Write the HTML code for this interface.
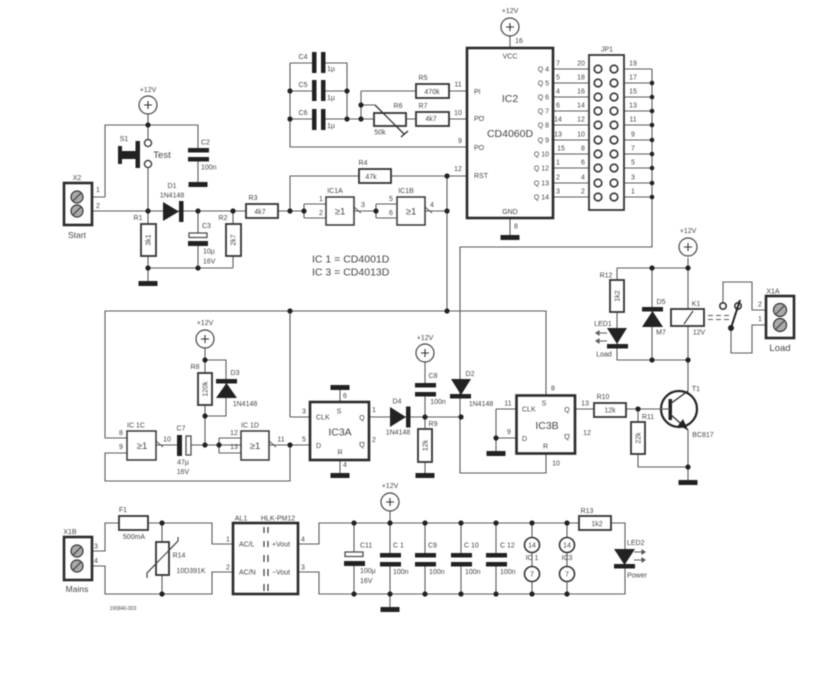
<!DOCTYPE html>
<html><head><meta charset="utf-8"><title>Circuit schematic</title>
<style>
html,body{margin:0;padding:0;background:#fff}
svg{display:block;width:818px;height:680px;filter:blur(.5px)}
text{font-family:"Liberation Sans",sans-serif;font-size:7px;fill:#444;text-anchor:middle}
.s{text-anchor:start}.e{text-anchor:end}
.b{font-size:9.5px}.m{font-size:10.5px}.c{font-size:10.5px;text-anchor:start}
.w{fill:none;stroke:#5a5a5a;stroke-width:1.1}
.r{fill:#fff;stroke:#333;stroke-width:1.8}
.ic{fill:#fff;stroke:#2a2a2a;stroke-width:2.6}
.g{fill:#fff;stroke:#333;stroke-width:1.5}
.o{fill:#fff;stroke:#444;stroke-width:1.2}
.t{fill:#fff;stroke:#333;stroke-width:1.6}
.k{fill:#222;stroke:none}
.j{fill:#222;stroke:none}
</style></head><body>
<svg xmlns="http://www.w3.org/2000/svg" width="818" height="680" viewBox="0 0 818 680">
<rect width="818" height="680" fill="#fff"/>

<!-- WIRES -->
<g class="w">
<path d="M148 114V140M148 167V211M105 197V125H198V184M78 197H105M78 211H290M148 211V283M198 211V268M233 211V268M148 268H233"/>
<path d="M290 211V176H467M290 211H304M304 204V218M304 204H326M304 218H326M354 211H376M376 204V218M376 204H396M376 218H396M425 211H447M447 176V311"/>
<path d="M510 36V48M510 218V237M290 63V147H467M290 63H347V119M290 91H347M290 119H374M361 91V119M361 91H416M449 91H467M406 119H416M449 119H467"/>
<path d="M361 105H375L404 134M401 137L408 131"/>
<path d="M553 69H598M553 83H598M553 97H598M553 111H598M553 125H598M553 140H598M553 154H598M553 168H598M553 183H598M553 197H598"/>
<path d="M615 69H652M615 83H652M615 97H652M615 111H652M615 125H652M615 140H652M615 154H652M615 168H652M615 183H652M615 197H652M652 69V247H460V473H546V453"/>
<path d="M105 438V311H546V395M105 438H127M127 453H105V481H290V445M156 445H179M189 445H241M219 438V453M219 438H241M219 453H241M269 445H310M290 417V311M290 417H310"/>
<path d="M205 348V445M205 360H226V416H205"/>
<path d="M340 387V402M340 460V475M369 417H461M425 362V475"/>
<path d="M496 438V453M496 409V438M496 409H516M496 438H516M575 409H660M638 409V467H688M688 258V391M688 430V482M617 268H688M617 268V360H688M652 268V360"/>
<path d="M670 404L688 391M670 414L688 430"/>
<path d="M723 302V282H752V310H770M731 328V353H752V325H770M731 328L740 300"/>
<path d="M77 551H105V523H212V544H233M77 566H105V594H212V572H233M162 523V594M298 544H319V523H625V594H319V572H298"/>
<path d="M147 578V573L178 541V537"/>
<path d="M390 511V609M354 523V594M425 523V594M461 523V594M496 523V594M532 523V594M567 523V594"/>
<path d="M354 207L361 213M425 207L432 213M156 441L163 447M269 441L276 447"/>
<path d="M708 315.500H713M716 315.500H721M724 315.500H729M708 319.500H713M716 319.500H721M724 319.500H729"/>
<path d="M607 333H596M607 341H596M596 333l3-2v4zM596 341l3-2v4zM634 552H645M634 560H645" />
<path d="M645 552l-3-2v4zM645 560l-3-2v4z" fill="#444"/>
</g>

<!-- gaps between capacitor plates -->
<g fill="#fff">
<rect x="190" y="152" width="17" height="5"/><rect x="190" y="237" width="16" height="4"/>
<rect x="316" y="54" width="5" height="17"/><rect x="316" y="82" width="5" height="17"/><rect x="316" y="111" width="5" height="17"/>
<rect x="417" y="387" width="17" height="5"/><rect x="346" y="556" width="17" height="5"/>
<rect x="382" y="557" width="17" height="5"/><rect x="417" y="557" width="17" height="5"/><rect x="453" y="557" width="17" height="5"/><rect x="488" y="557" width="17" height="5"/>
</g>

<!-- supply circles -->
<g class="o" stroke="#333">
<circle cx="148" cy="105" r="9"/><circle cx="510" cy="27" r="9"/><circle cx="205" cy="339" r="9"/><circle cx="425" cy="353" r="9"/><circle cx="688" cy="247" r="9"/><circle cx="390" cy="502" r="9"/>
</g>
<g class="w" style="stroke:#333">
<path d="M144 105h8M148 101v8M506 27h8M510 23v8M201 339h8M205 335v8M421 353h8M425 349v8M684 247h8M688 243v8M386 502h8M390 498v8"/>
</g>

<!-- terminal blocks -->
<rect class="ic" x="64" y="183" width="28" height="42"/>
<rect class="ic" x="64" y="537" width="28" height="43"/>
<rect class="ic" x="766" y="296" width="28" height="42"/>
<g fill="#aaa" stroke="#333" stroke-width="1.2">
<circle cx="77" cy="197" r="6"/><circle cx="77" cy="211" r="6"/>
<circle cx="77" cy="551" r="6"/><circle cx="77" cy="566" r="6"/>
<circle cx="780" cy="310" r="6.500"/><circle cx="780" cy="325" r="6.500"/>
</g>
<path d="M73 201l8-8M73 215l8-8M73 555l8-8M73 570l8-8M776 314l8-8M776 329l8-8" stroke="#333" stroke-width="1" fill="none"/>

<!-- Switch S1 -->
<rect class="k" x="135.500" y="141" width="4.500" height="27"/>
<rect class="k" x="118" y="146" width="4" height="18"/>
<rect class="k" x="121" y="151" width="15" height="8"/>
<circle class="o" cx="148" cy="143" r="3.500" style="stroke-width:1.500"/>
<circle class="o" cx="148" cy="164" r="3.500" style="stroke-width:1.500"/>

<!-- Capacitors -->
<g class="k">
<rect x="188" y="148" width="21" height="4.500"/><rect x="188" y="157" width="21" height="4.500"/>
<rect x="188" y="241" width="20" height="5"/>
<rect x="312" y="52" width="4.500" height="21"/><rect x="321" y="52" width="4.500" height="21"/>
<rect x="312" y="80" width="4.500" height="21"/><rect x="321" y="80" width="4.500" height="21"/>
<rect x="312" y="109" width="4.500" height="21"/><rect x="321" y="109" width="4.500" height="21"/>
<rect x="177" y="435" width="5" height="21"/>
<rect x="415" y="383" width="21" height="4.500"/><rect x="415" y="392" width="21" height="4.500"/>
<rect x="344" y="561" width="21" height="5"/>
<rect x="380" y="553" width="21" height="4.500"/><rect x="380" y="562" width="21" height="4.500"/>
<rect x="415" y="553" width="21" height="4.500"/><rect x="415" y="562" width="21" height="4.500"/>
<rect x="451" y="553" width="21" height="4.500"/><rect x="451" y="562" width="21" height="4.500"/>
<rect x="486" y="553" width="21" height="4.500"/><rect x="486" y="562" width="21" height="4.500"/>
</g>
<rect class="o" x="189" y="233" width="18" height="4.500"/>
<rect class="o" x="186" y="436" width="5" height="19"/>
<rect class="o" x="345" y="552" width="18" height="4.500"/>

<!-- Grounds -->
<g class="k">
<rect x="188.500" y="182" width="19" height="5"/><rect x="138.500" y="281" width="19" height="5"/>
<rect x="500.500" y="235" width="19" height="5"/><rect x="330.500" y="385" width="19" height="5"/>
<rect x="330.500" y="473" width="19" height="5"/><rect x="415.500" y="473" width="19" height="5"/>
<rect x="486.500" y="451" width="19" height="5"/><rect x="678.500" y="480" width="19" height="5"/>
<rect x="380.500" y="607" width="19" height="5"/>
</g>

<!-- Diodes -->
<g class="k">
<path d="M163 202V221L179 211.500Z"/><rect x="179" y="201" width="4.500" height="21"/>
<path d="M216 398H237L226.500 383Z"/><rect x="216" y="379" width="21" height="4.500"/>
<path d="M390 407V427L406 417Z"/><rect x="406" y="406.500" width="4.500" height="21"/>
<path d="M451 379H471L461 395Z"/><rect x="450" y="394" width="21" height="4.500"/>
<path d="M642 327H663L652.500 311Z"/><rect x="642" y="307" width="21" height="4.500"/>
<path d="M607 328H627L617 344Z"/><rect x="607" y="344" width="21" height="4.500"/>
<path d="M614 549H635L624.500 565Z"/><rect x="614" y="564" width="21" height="4.500"/>
</g>

<!-- Resistors -->
<g class="r">
<rect x="141" y="224" width="15" height="32"/><rect x="226" y="224" width="15" height="32"/>
<rect x="246" y="204" width="32" height="14"/><rect x="359" y="169" width="32" height="14"/>
<rect x="416" y="84" width="33" height="14"/><rect x="416" y="112" width="33" height="14"/>
<rect x="374" y="113" width="32" height="13"/>
<rect x="198" y="373" width="14" height="32"/><rect x="418" y="429" width="14" height="33"/>
<rect x="594" y="403" width="32" height="14"/><rect x="631" y="422" width="14" height="32"/>
<rect x="610" y="280" width="14" height="32"/>
<rect x="579" y="516" width="32" height="14"/>
<rect x="119" y="516" width="29" height="14"/>
<rect x="156" y="542" width="13" height="33"/>
</g>
<path d="M147 578V573L178 541V537" fill="none" stroke="#444" stroke-width="1.100"/>
<path d="M375 105L404 134M401 137L408 131" fill="none" stroke="#333" stroke-width="1.300"/>

<!-- Gates -->
<g class="g">
<rect x="326" y="197" width="28" height="28"/><rect x="397" y="197" width="28" height="28"/>
<rect x="127" y="431" width="29" height="29"/><rect x="241" y="431" width="28" height="29"/>
</g>

<!-- ICs -->
<rect class="ic" x="467" y="48" width="86" height="170"/>
<rect class="r" x="589" y="55" width="35" height="155"/>
<rect class="ic" x="310" y="402" width="59" height="58"/>
<rect class="ic" x="516.500" y="395.500" width="58.500" height="58"/>
<rect class="ic" x="233" y="523" width="65" height="71"/>
<path d="M264 527v6M268 527v6M264 541v6M268 541v6M264 555v7M268 555v7M264 569v7M268 569v7M264 584v7M268 584v7" stroke="#333" stroke-width="1.200"/>

<!-- JP1 pins -->
<g class="t">
<circle cx="598" cy="69" r="3.800"/><circle cx="614" cy="69" r="3.800"/>
<circle cx="598" cy="83" r="3.800"/><circle cx="614" cy="83" r="3.800"/>
<circle cx="598" cy="97" r="3.800"/><circle cx="614" cy="97" r="3.800"/>
<circle cx="598" cy="111" r="3.800"/><circle cx="614" cy="111" r="3.800"/>
<circle cx="598" cy="125" r="3.800"/><circle cx="614" cy="125" r="3.800"/>
<circle cx="598" cy="140" r="3.800"/><circle cx="614" cy="140" r="3.800"/>
<circle cx="598" cy="154" r="3.800"/><circle cx="614" cy="154" r="3.800"/>
<circle cx="598" cy="168" r="3.800"/><circle cx="614" cy="168" r="3.800"/>
<circle cx="598" cy="183" r="3.800"/><circle cx="614" cy="183" r="3.800"/>
<circle cx="598" cy="197" r="3.800"/><circle cx="614" cy="197" r="3.800"/>
</g>

<!-- Relay -->
<rect class="r" x="671" y="309" width="33" height="17"/>
<path d="M684 324L693 311" stroke="#333" stroke-width="1.100"/>
<circle class="t" cx="723" cy="306" r="3.200"/><circle class="t" cx="738" cy="306" r="3.200"/>
<path d="M731 328L740 300" stroke="#222" stroke-width="2"/>

<!-- Transistor -->
<circle cx="679" cy="409" r="18" fill="none" stroke="#222" stroke-width="2.200"/>
<rect class="k" x="668.500" y="399" width="3.500" height="21"/>
<path d="M670 404L688 391M670 414L688 430" fill="none" stroke="#333" stroke-width="1.300"/>
<path d="M688 430L678 425.500L683 419Z" fill="#222"/>
<path d="M660 409H670" stroke="#555" stroke-width="1.100"/>

<!-- IC supply circles -->
<g class="t">
<circle cx="532" cy="545" r="7.500"/><circle cx="532" cy="574" r="7.500"/>
<circle cx="567" cy="545" r="7.500"/><circle cx="567" cy="574" r="7.500"/>
</g>

<!-- Junctions -->
<g class="j">
<circle cx="148" cy="125" r="2.600"/><circle cx="148" cy="211" r="2.600"/><circle cx="148" cy="268" r="2.600"/>
<circle cx="198" cy="211" r="2.600"/><circle cx="198" cy="268" r="2.600"/><circle cx="233" cy="211" r="2.600"/>
<circle cx="290" cy="211" r="2.600"/><circle cx="304" cy="211" r="2.600"/><circle cx="376" cy="211" r="2.600"/>
<circle cx="447" cy="176" r="2.600"/><circle cx="447" cy="211" r="2.600"/><circle cx="447" cy="311" r="2.600"/><circle cx="290" cy="311" r="2.600"/>
<circle cx="290" cy="91" r="2.600"/><circle cx="290" cy="119" r="2.600"/><circle cx="347" cy="91" r="2.600"/><circle cx="347" cy="119" r="2.600"/><circle cx="361" cy="119" r="2.600"/><circle cx="361" cy="105" r="2.600"/>
<circle cx="652" cy="83" r="2.300"/><circle cx="652" cy="97" r="2.300"/><circle cx="652" cy="111" r="2.300"/><circle cx="652" cy="125" r="2.300"/><circle cx="652" cy="140" r="2.300"/><circle cx="652" cy="154" r="2.300"/><circle cx="652" cy="168" r="2.300"/><circle cx="652" cy="183" r="2.300"/><circle cx="652" cy="197" r="2.300"/>
<circle cx="205" cy="360" r="2.600"/><circle cx="205" cy="416" r="2.600"/><circle cx="205" cy="445" r="2.600"/><circle cx="219" cy="445" r="2.600"/><circle cx="290" cy="445" r="2.600"/>
<circle cx="425" cy="417" r="2.600"/><circle cx="461" cy="417" r="2.600"/>
<circle cx="496" cy="438" r="2.600"/><circle cx="638" cy="409" r="2.600"/><circle cx="688" cy="467" r="2.600"/>
<circle cx="688" cy="268" r="2.600"/><circle cx="652" cy="268" r="2.600"/><circle cx="652" cy="360" r="2.600"/><circle cx="688" cy="360" r="2.600"/>
<circle cx="731" cy="328" r="3"/>
<circle cx="162" cy="523" r="2.600"/><circle cx="162" cy="594" r="2.600"/>
<circle cx="354" cy="523" r="2.600"/><circle cx="390" cy="523" r="2.600"/><circle cx="425" cy="523" r="2.600"/><circle cx="461" cy="523" r="2.600"/><circle cx="496" cy="523" r="2.600"/><circle cx="532" cy="523" r="2.600"/><circle cx="567" cy="523" r="2.600"/>
<circle cx="354" cy="594" r="2.600"/><circle cx="390" cy="594" r="2.600"/><circle cx="425" cy="594" r="2.600"/><circle cx="461" cy="594" r="2.600"/><circle cx="496" cy="594" r="2.600"/><circle cx="532" cy="594" r="2.600"/><circle cx="567" cy="594" r="2.600"/>
</g>

<!-- LABELS -->
<text x="148" y="92">+12V</text><text x="510" y="13">+12V</text><text x="205" y="325">+12V</text><text x="425" y="340">+12V</text><text x="688" y="233">+12V</text><text x="390" y="488">+12V</text>
<text x="77" y="180">X2</text><text x="77" y="238" style="font-size:8.500px">Start</text><text x="98" y="192">1</text><text x="98" y="208">2</text>
<text x="124" y="141">S1</text><text x="162" y="158" class="b">Test</text><text x="201" y="144.500" class="s">C2</text><text x="201" y="169.500" class="s">100n</text>
<text x="172" y="188">D1</text><text x="172" y="197.500">1N4148</text><text x="138" y="220">R1</text><text x="223" y="220">R2</text>
<text transform="translate(150.500 240) rotate(-90)">3k1</text><text transform="translate(235.500 240) rotate(-90)">2k7</text>
<text x="202" y="228" class="s">C3</text><text x="203" y="253.500" class="s">10µ</text><text x="203" y="263.500" class="s">16V</text>
<text x="253" y="200">R3</text><text x="260" y="214">4k7</text><text x="363" y="165">R4</text><text x="371" y="179">47k</text>
<text x="335" y="193">IC1A</text><text x="406" y="193">IC1B</text>
<text x="321" y="201">1</text><text x="321" y="215">2</text><text x="363" y="207">3</text><text x="391" y="201">5</text><text x="391" y="215">6</text><text x="432" y="207">4</text>
<text x="340" y="214.500" class="b">≥1</text><text x="411" y="214.500" class="b">≥1</text><text x="142" y="449" class="b">≥1</text><text x="255" y="449" class="b">≥1</text>
<text x="312" y="262.500" class="c">IC 1 = CD4001D</text><text x="312" y="275.500" class="c">IC 3 = CD4013D</text>

<text x="303" y="59">C4</text><text x="303" y="87">C5</text><text x="303" y="115">C6</text>
<text x="331" y="71">1µ</text><text x="331" y="100">1µ</text><text x="331" y="128">1µ</text>
<text x="423" y="80">R5</text><text x="423" y="108">R7</text><text x="398" y="108">R6</text><text x="432" y="94">470k</text><text x="431" y="121">4k7</text><text x="380" y="134.500">50k</text>
<text x="458" y="86.500">11</text><text x="458" y="115">10</text><text x="460" y="143">9</text><text x="458" y="171">12</text><text x="519" y="43">16</text><text x="516" y="228.500">8</text>
<text x="474" y="94" class="s">PI</text><text x="474" y="121" class="s" text-decoration="overline">PO</text><text x="474" y="150" class="s">PO</text><text x="474" y="178" class="s">RST</text>
<text x="510" y="58.500">VCC</text><text x="510" y="102" class="m">IC2</text><text x="510" y="137" class="m">CD4060D</text><text x="510" y="214">GND</text>
<text x="549" y="71.500" class="e">Q 4</text><text x="549" y="85.500" class="e">Q 5</text><text x="549" y="99.500" class="e">Q 6</text><text x="549" y="113.500" class="e">Q 7</text><text x="549" y="127.500" class="e">Q 8</text><text x="549" y="142.500" class="e">Q 9</text><text x="549" y="156.500" class="e">Q 10</text><text x="549" y="170.500" class="e">Q 12</text><text x="549" y="185.500" class="e">Q 13</text><text x="549" y="199.500" class="e">Q 14</text>
<text x="558" y="65.500">7</text><text x="558" y="79.500">5</text><text x="558" y="93.500">4</text><text x="558" y="107.500">6</text><text x="558" y="121.500">14</text><text x="558" y="136.500">13</text><text x="561" y="150.500">15</text><text x="558" y="164.500">1</text><text x="558" y="179.500">2</text><text x="558" y="193.500">3</text>
<text x="581" y="65.500">20</text><text x="581" y="79.500">18</text><text x="581" y="93.500">16</text><text x="581" y="107.500">14</text><text x="581" y="121.500">12</text><text x="581" y="136.500">10</text><text x="583" y="150.500">8</text><text x="583" y="164.500">6</text><text x="583" y="179.500">4</text><text x="583" y="193.500">2</text>
<text x="633" y="65.500">19</text><text x="633" y="79.500">17</text><text x="633" y="93.500">15</text><text x="633" y="107.500">13</text><text x="633" y="121.500">11</text><text x="633" y="136.500">9</text><text x="633" y="150.500">7</text><text x="633" y="164.500">5</text><text x="633" y="179.500">3</text><text x="633" y="193.500">1</text>
<text x="607" y="51.500">JP1</text>

<text x="136" y="427.500">IC 1C</text><text x="250" y="427.500">IC 1D</text><text x="121" y="435">8</text><text x="121" y="449">9</text><text x="167" y="441.500">10</text>
<text x="181" y="430.500">C7</text><text x="183" y="464.500">47µ</text><text x="183" y="474">16V</text>
<text x="195" y="369">R8</text><text transform="translate(207.500 389) rotate(-90)">120k</text><text x="235" y="375">D3</text><text x="245" y="406">1N4148</text>
<text x="234" y="435">12</text><text x="234" y="449">13</text><text x="281" y="441.500">11</text><text x="304" y="413.500">3</text><text x="304" y="441.500">5</text>
<text x="316" y="419.500" class="s">CLK</text><text x="316" y="448" class="s">D</text><text x="339" y="413.500">S</text><text x="340" y="454.500">R</text><text x="345" y="398">6</text><text x="345" y="467">4</text>
<text x="340" y="435.500" class="m">IC3A</text><text x="362" y="420">Q</text><text x="362" y="447" text-decoration="overline">Q</text><text x="374" y="412">1</text><text x="374" y="442">2</text>
<text x="397" y="403.500">D4</text><text x="398" y="434.500">1N4148</text><text x="433" y="378">C8</text><text x="438" y="404">100n</text><text x="433" y="426">R9</text><text transform="translate(427.500 445.500) rotate(-90)">12k</text>
<text x="470" y="376">D2</text><text x="481" y="406">1N4148</text>

<text x="606" y="277.500">R12</text><text transform="translate(619.500 296) rotate(-90)">1k2</text><text x="661" y="304">D5</text><text x="661" y="334.500">M7</text>
<text x="603" y="326">LED1</text><text x="604" y="356.500">Load</text><text x="696" y="306">K1</text><text x="699" y="334.500">12V</text>
<text x="773" y="293.500">X1A</text><text x="760" y="306.500">2</text><text x="760" y="321">1</text><text x="780" y="351" class="b">Load</text>
<text x="553" y="390.500">8</text><text x="508" y="405.500">11</text><text x="509" y="434">9</text><text x="522" y="411.500" class="s">CLK</text><text x="522" y="441" class="s">D</text><text x="544" y="405.500">S</text><text x="545.500" y="448.500">R</text>
<text x="567" y="412">Q</text><text x="567" y="439" text-decoration="overline">Q</text><text x="585" y="405.500">13</text><text x="587" y="435">12</text><text x="556" y="465.500">10</text><text x="547" y="429" class="m">IC3B</text>
<text x="603" y="399">R10</text><text x="610" y="412.500">12k</text><text x="648" y="419">R11</text><text transform="translate(640.500 438) rotate(-90)">22k</text><text x="696" y="391">T1</text><text x="703" y="437">BC817</text>

<text x="70" y="534">X1B</text><text x="77" y="592" style="font-size:8.500px">Mains</text><text x="96" y="548.500">3</text><text x="96" y="563">4</text>
<text x="123" y="512">F1</text><text x="134" y="539">500mA</text><text x="179" y="557.500">R14</text><text x="191" y="573">10D391K</text>
<text x="241" y="520.500">AL1</text><text x="278" y="520.500">HLK-PM12</text><text x="228" y="541.500">1</text><text x="228" y="569.500">2</text><text x="303" y="541.500">4</text><text x="303" y="569.500">3</text>
<text x="239" y="546.500" class="s">AC/L</text><text x="239" y="574.500" class="s">AC/N</text><text x="272" y="546.500" class="s">+Vout</text><text x="272" y="574.500" class="s">−Vout</text>
<text x="123" y="610" style="font-size:5px">190840-003</text>
<text x="360" y="547.500" class="s">C11</text><text x="360" y="573" class="s">100µ</text><text x="360" y="583" class="s">16V</text>
<text x="393" y="547.500" class="s">C 1</text><text x="428" y="547.500" class="s">C9</text><text x="464" y="547.500" class="s">C 10</text><text x="500" y="547.500" class="s">C 12</text>
<text x="393" y="574" class="s">100n</text><text x="429" y="574" class="s">100n</text><text x="465" y="574" class="s">100n</text><text x="500" y="574" class="s">100n</text>
<text x="532" y="547.500">14</text><text x="567" y="547.500">14</text><text x="532" y="576.500">7</text><text x="567" y="576.500">7</text>
<text x="532" y="560">IC 1</text><text x="567" y="560">IC3</text>
<text x="587" y="513">R13</text><text x="597" y="526">1k2</text><text x="627" y="545" class="s">LED2</text><text x="627" y="577.500" class="s">Power</text>
</svg>
</body></html>
